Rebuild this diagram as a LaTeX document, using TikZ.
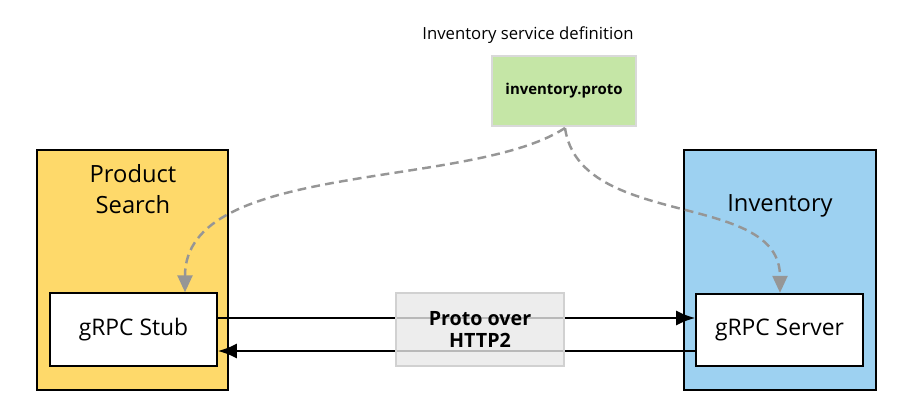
\documentclass[tikz,border=0pt]{standalone}
\usepackage{fontspec}
\setmainfont{Open Sans}
\usetikzlibrary{arrows.meta,positioning}

\definecolor{searchyellow}{RGB}{254,217,106}
\definecolor{invblue}{RGB}{157,209,241}
\definecolor{protogreen}{RGB}{197,230,166}
\definecolor{wiregrey}{RGB}{232,232,232}
\definecolor{dashgrey}{RGB}{150,150,150}

\tikzset{
  service/.style={draw=black,line width=1.1pt,minimum width=3.83cm,minimum height=4.8cm},
  grpcbox/.style={draw=black,fill=white,line width=1.1pt,minimum width=3.34cm,minimum height=1.45cm,font=\fontsize{13}{15}\selectfont},
  title/.style={align=center,font=\fontsize{13.5}{18}\selectfont},
  wire/.style={line width=0.9pt,-{Latex[length=3.8mm,width=3mm]}},
  gen/.style={dashgrey,dashed,line width=1.4pt,dash pattern=on 5pt off 3pt,
    -{Triangle[length=3.4mm,width=3mm]}}
}

\begin{document}
\begin{tikzpicture}[x=0.02cm,y=-0.02cm]
  % 917 x 413 frame
  \useasboundingbox (0,0) rectangle (917,413);

  % services
  \node[service,fill=searchyellow] (search) at (132.5,270) {};
  \node[service,fill=invblue] (inventory) at (780,270) {};
  \node[title] (searchlbl) at (133,189) {Product\\Search};
  \node[title] (invlbl) at (780,206) {Inventory};

  \node[grpcbox] (stub) at (133.5,329.5) {gRPC Stub};
  \node[grpcbox] (server) at (779.5,330) {gRPC Server};

  % proto file
  \node[draw=black!15,fill=protogreen,line width=1pt,minimum width=2.88cm,minimum height=1.4cm,
        font=\bfseries\fontsize{8.5}{10}\selectfont] (proto) at (564,91) {inventory.proto};
  \node[font=\fontsize{9.5}{11}\selectfont] (protolbl) at (528,35) {Inventory service definition};

  % calls between stub and server
  \draw[wire] (stub.east |- 0,318) -- (server.west |- 0,318);
  \draw[wire] (server.west |- 0,351) -- (stub.east |- 0,351);

  \node[draw=black!18,fill=wiregrey,fill opacity=0.8,text opacity=1,line width=1pt,
        minimum width=3.36cm,minimum height=1.46cm,align=center,
        font=\bfseries\fontsize{11.2}{12.5}\selectfont] (wirelbl) at (480,329.5) {Proto over\\HTTP2};

  % generated code
  \coordinate (gen) at (565,128);
  \draw[gen] (gen) .. controls (470,190) and (185,160) .. (stub.north -| 185,0);
  \draw[gen] (gen) .. controls (580,230) and (780,190) .. (server.north -| 780,0);
\end{tikzpicture}
\end{document}
